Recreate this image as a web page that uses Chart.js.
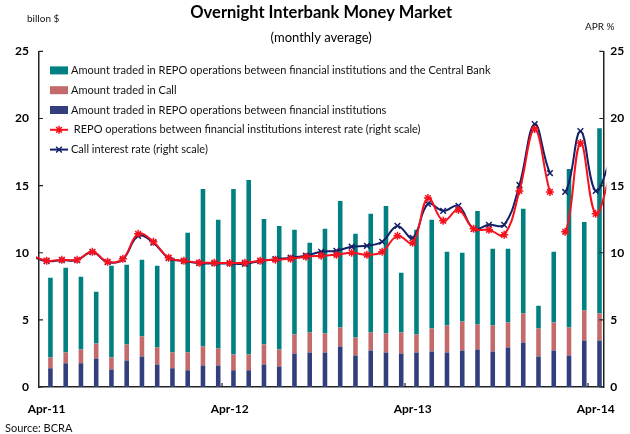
<!DOCTYPE html>
<html lang="en">
<head>
    <meta charset="UTF-8">
    <title>Overnight Interbank Money Market</title>
    <style>
        body {
            margin: 0;
            padding: 0;
            background-color: #ffffff;
            font-family: Lato, sans-serif;
        }

        .chart-box {
            position: relative;
            width: 630px;
            height: 434px;
        }
    </style>
    <script src="https://cdn.jsdelivr.net/npm/chart.js"></script>
</head>
<body>
    <div class="chart-box">
        <canvas id="moneyChart"></canvas>
    </div>

    <script>
        // Months shown as bars (Apr-11 .. Apr-14)
        const months = [
            'Apr-11', 'May-11', 'Jun-11', 'Jul-11', 'Aug-11', 'Sep-11', 'Oct-11', 'Nov-11', 'Dec-11', 'Jan-12', 'Feb-12', 'Mar-12',
            'Apr-12', 'May-12', 'Jun-12', 'Jul-12', 'Aug-12', 'Sep-12', 'Oct-12', 'Nov-12', 'Dec-12', 'Jan-13', 'Feb-13', 'Mar-13',
            'Apr-13', 'May-13', 'Jun-13', 'Jul-13', 'Aug-13', 'Sep-13', 'Oct-13', 'Nov-13', 'Dec-13', 'Jan-14', 'Feb-14', 'Mar-14',
            'Apr-14'
        ];

        // billion $ (left scale)
        const repoBetweenFI = [
            1.39, 1.76, 1.76, 2.13, 1.31, 1.98, 2.28, 1.68, 1.39, 1.24, 1.61, 1.61,
            1.24, 1.24, 1.68, 1.53, 2.50, 2.57, 2.57, 3.02, 2.35, 2.72, 2.57, 2.50,
            2.57, 2.65, 2.57, 2.72, 2.80, 2.65, 2.95, 3.32, 2.28, 2.72, 2.35, 3.47,
            3.47
        ];
        const callAmount = [
            0.81, 0.81, 1.04, 1.11, 0.89, 1.19, 1.48, 1.27, 1.18, 1.33, 1.41, 1.26,
            1.19, 1.19, 1.49, 1.27, 1.41, 1.49, 1.42, 1.41, 1.34, 1.34, 1.42, 1.56,
            1.34, 1.71, 2.01, 2.16, 1.85, 1.93, 1.85, 2.15, 2.08, 2.08, 2.08, 2.22,
            2.00
        ];
        const repoWithCentralBank = [
            5.94, 6.32, 5.42, 3.86, 6.83, 5.94, 5.72, 6.08, 7.06, 8.92, 11.73, 9.58,
            12.32, 12.99, 9.35, 9.20, 7.80, 6.68, 7.79, 9.43, 7.72, 8.84, 9.50, 4.45,
            7.80, 8.09, 5.49, 5.12, 8.47, 5.72, 5.50, 7.80, 1.70, 5.27, 11.81, 6.61,
            13.81
        ];

        // APR % (right scale), Mar-11 .. May-14 (one month more on each side)
        const repoRate = [
            9.80,
            9.41, 9.48, 9.48, 10.07, 9.33, 9.55, 11.41, 10.82, 9.63, 9.41, 9.26, 9.26,
            9.23, 9.26, 9.41, 9.48, 9.55, 9.70, 9.78, 9.85, 10.00, 9.85, 10.07, 11.26,
            10.74, 14.08, 12.38, 13.19, 11.78, 11.71, 11.34, 14.60, 19.21, 14.53, 11.56, 18.17,
            12.90,
            16.00
        ];
        const callRate = [
            9.75,
            9.38, 9.45, 9.45, 10.05, 9.30, 9.52, 11.26, 10.75, 9.60, 9.38, 9.22, 9.20,
            9.20, 9.18, 9.38, 9.52, 9.63, 9.78, 10.07, 10.15, 10.45, 10.52, 10.82, 12.00,
            11.11, 13.64, 13.12, 13.49, 11.78, 12.08, 12.08, 15.05, 19.58, 15.94, 14.53, 19.06,
            14.60,
            17.00
        ];
        const rateBreakAfter = 34; // no line drawn between Jan-14 and Feb-14

        const leftTicks = [0, 5, 10, 15, 20, 25];

        const TEAL = '#008080';
        const PINK = '#c46a6a';
        const NAVY = '#323f7c';
        const RED = '#f5121e';
        const DARKBLUE = '#142068';

        // draws legend inside the plot, inward ticks, axis units and the source note
        const extraTexts = {
            id: 'extraTexts',
            afterDraw(chart) {
                const { ctx, chartArea, scales } = chart;
                ctx.save();

                // inward tick marks
                ctx.strokeStyle = '#222';
                ctx.lineWidth = 1.2;
                ctx.beginPath();
                leftTicks.forEach(v => {
                    const yl = scales.y.getPixelForValue(v);
                    ctx.moveTo(chartArea.left, yl);
                    ctx.lineTo(chartArea.left + 4, yl);
                    const yr = scales.y2.getPixelForValue(v);
                    ctx.moveTo(chartArea.right, yr);
                    ctx.lineTo(chartArea.right - 4, yr);
                });
                months.forEach((m, i) => {
                    if (i > 0 && m.startsWith('Apr')) {
                        const px = (scales.x.getPixelForValue(i - 1) + scales.x.getPixelForValue(i)) / 2;
                        ctx.moveTo(px, chartArea.bottom);
                        ctx.lineTo(px, chartArea.bottom - 4);
                    }
                });
                ctx.stroke();

                // legend
                const order = [4, 3, 2, 0, 1];
                ctx.font = '11px Lato';
                ctx.textBaseline = 'middle';
                ctx.textAlign = 'left';
                order.forEach((idx, row) => {
                    const ds = chart.data.datasets[idx];
                    const x = chartArea.left + 11;
                    const y = chartArea.top + 19 + row * 19.8;
                    if (ds.type === 'line') {
                        ctx.strokeStyle = ds.borderColor;
                        ctx.lineWidth = 2;
                        ctx.beginPath();
                        ctx.moveTo(x, y);
                        ctx.lineTo(x + 18, y);
                        ctx.stroke();
                        drawMarker(ctx, ds.pointStyle, x + 9, y, ds.pointRadius, ds.pointBorderColor);
                    } else {
                        ctx.fillStyle = ds.backgroundColor;
                        ctx.fillRect(x, y - 4, 18, 8);
                    }
                    ctx.fillStyle = '#111';
                    ctx.fillText(ds.label, x + 21, y);
                });

                // units and source
                ctx.font = '10px Lato';
                ctx.fillStyle = '#111';
                ctx.fillText('billon $', 27, 19);
                ctx.fillText('APR %', 585, 27);
                ctx.font = '11px Lato';
                ctx.fillText('Source: BCRA', 5, 428);
                ctx.restore();
            }
        };

        function drawMarker(ctx, style, x, y, r, color) {
            ctx.save();
            ctx.strokeStyle = color;
            ctx.lineWidth = 1.5;
            ctx.beginPath();
            const d = r * Math.SQRT1_2;
            ctx.moveTo(x - d, y - d); ctx.lineTo(x + d, y + d);
            ctx.moveTo(x - d, y + d); ctx.lineTo(x + d, y - d);
            if (style === 'star') {
                ctx.moveTo(x - r, y); ctx.lineTo(x + r, y);
                ctx.moveTo(x, y - r); ctx.lineTo(x, y + r);
            }
            ctx.stroke();
            ctx.restore();
        }

        const rateLine = (values, label, color, style, radius) => ({
            type: 'line',
            label: label,
            data: values.map((v, i) => ({ x: i - 1, y: v })),
            xAxisID: 'xl',
            yAxisID: 'y2',
            borderColor: color,
            backgroundColor: color,
            borderWidth: 2,
            tension: 0.4,
            pointStyle: style,
            pointRadius: radius,
            pointBorderWidth: 1.5,
            pointBorderColor: color,
            pointBackgroundColor: color,
            clip: { left: 3, right: 3, top: 5, bottom: 5 },
            segment: {
                borderColor: c => (c.p0DataIndex === rateBreakAfter ? 'rgba(0,0,0,0)' : undefined)
            }
        });

        Chart.defaults.font.family = 'Lato';
        Chart.defaults.color = '#000';

        new Chart(document.getElementById('moneyChart'), {
            type: 'bar',
            data: {
                labels: months,
                datasets: [
                    rateLine(repoRate, ' REPO operations between financial institutions interest rate (right scale)', RED, 'star', 4),
                    rateLine(callRate, 'Call interest rate (right scale)', DARKBLUE, 'crossRot', 4),
                    {
                        label: 'Amount traded in REPO operations between financial institutions',
                        data: repoBetweenFI,
                        backgroundColor: NAVY,
                        stack: 'amounts'
                    },
                    {
                        label: 'Amount traded in Call',
                        data: callAmount,
                        backgroundColor: PINK,
                        stack: 'amounts'
                    },
                    {
                        label: 'Amount traded in REPO operations between financial institutions and the Central Bank',
                        data: repoWithCentralBank,
                        backgroundColor: TEAL,
                        stack: 'amounts'
                    }
                ]
            },
            options: {
                responsive: true,
                maintainAspectRatio: false,
                animation: false,
                layout: { padding: 0 },
                datasets: {
                    bar: { barPercentage: 0.6, categoryPercentage: 1 }
                },
                plugins: {
                    legend: { display: false },
                    tooltip: { enabled: false },
                    title: {
                        display: true,
                        fullSize: false,
                        text: 'Overnight Interbank Money Market',
                        font: { size: 16.5, weight: 'bold' },
                        padding: { top: 3, bottom: 6 }
                    },
                    subtitle: {
                        display: true,
                        fullSize: false,
                        text: '(monthly average)',
                        font: { size: 13 },
                        padding: { top: 1, bottom: 6 }
                    }
                },
                scales: {
                    x: {
                        stacked: true,
                        offset: true,
                        grid: { display: false, drawTicks: false },
                        border: { display: true, color: '#222', width: 1.5 },
                        ticks: {
                            autoSkip: false,
                            maxRotation: 0,
                            minRotation: 0,
                            padding: 15,
                            font: { size: 12, weight: 'bold' },
                            callback: function (value, index) {
                                return months[index].startsWith('Apr') ? months[index] : '';
                            }
                        },
                        afterFit: scale => { scale.height = 47; }
                    },
                    xl: {
                        type: 'linear',
                        display: false,
                        offset: false,
                        grid: { offset: false },
                        min: -0.5,
                        max: months.length - 0.5
                    },
                    y: {
                        stacked: true,
                        position: 'left',
                        min: 0,
                        max: 25,
                        ticks: { stepSize: 5, padding: 10, font: { size: 12, weight: 'bold' } },
                        grid: { display: false, drawTicks: false },
                        border: { display: true, color: '#222', width: 1.5 },
                        afterFit: scale => { scale.width = 39; }
                    },
                    y2: {
                        position: 'right',
                        min: 0,
                        max: 25,
                        ticks: { stepSize: 5, padding: 7, font: { size: 12, weight: 'bold' } },
                        grid: { display: false, drawTicks: false },
                        border: { display: true, color: '#222', width: 1.5 },
                        afterFit: scale => { scale.width = 23; }
                    }
                }
            },
            plugins: [extraTexts]
        });
    </script>
</body>
</html>
